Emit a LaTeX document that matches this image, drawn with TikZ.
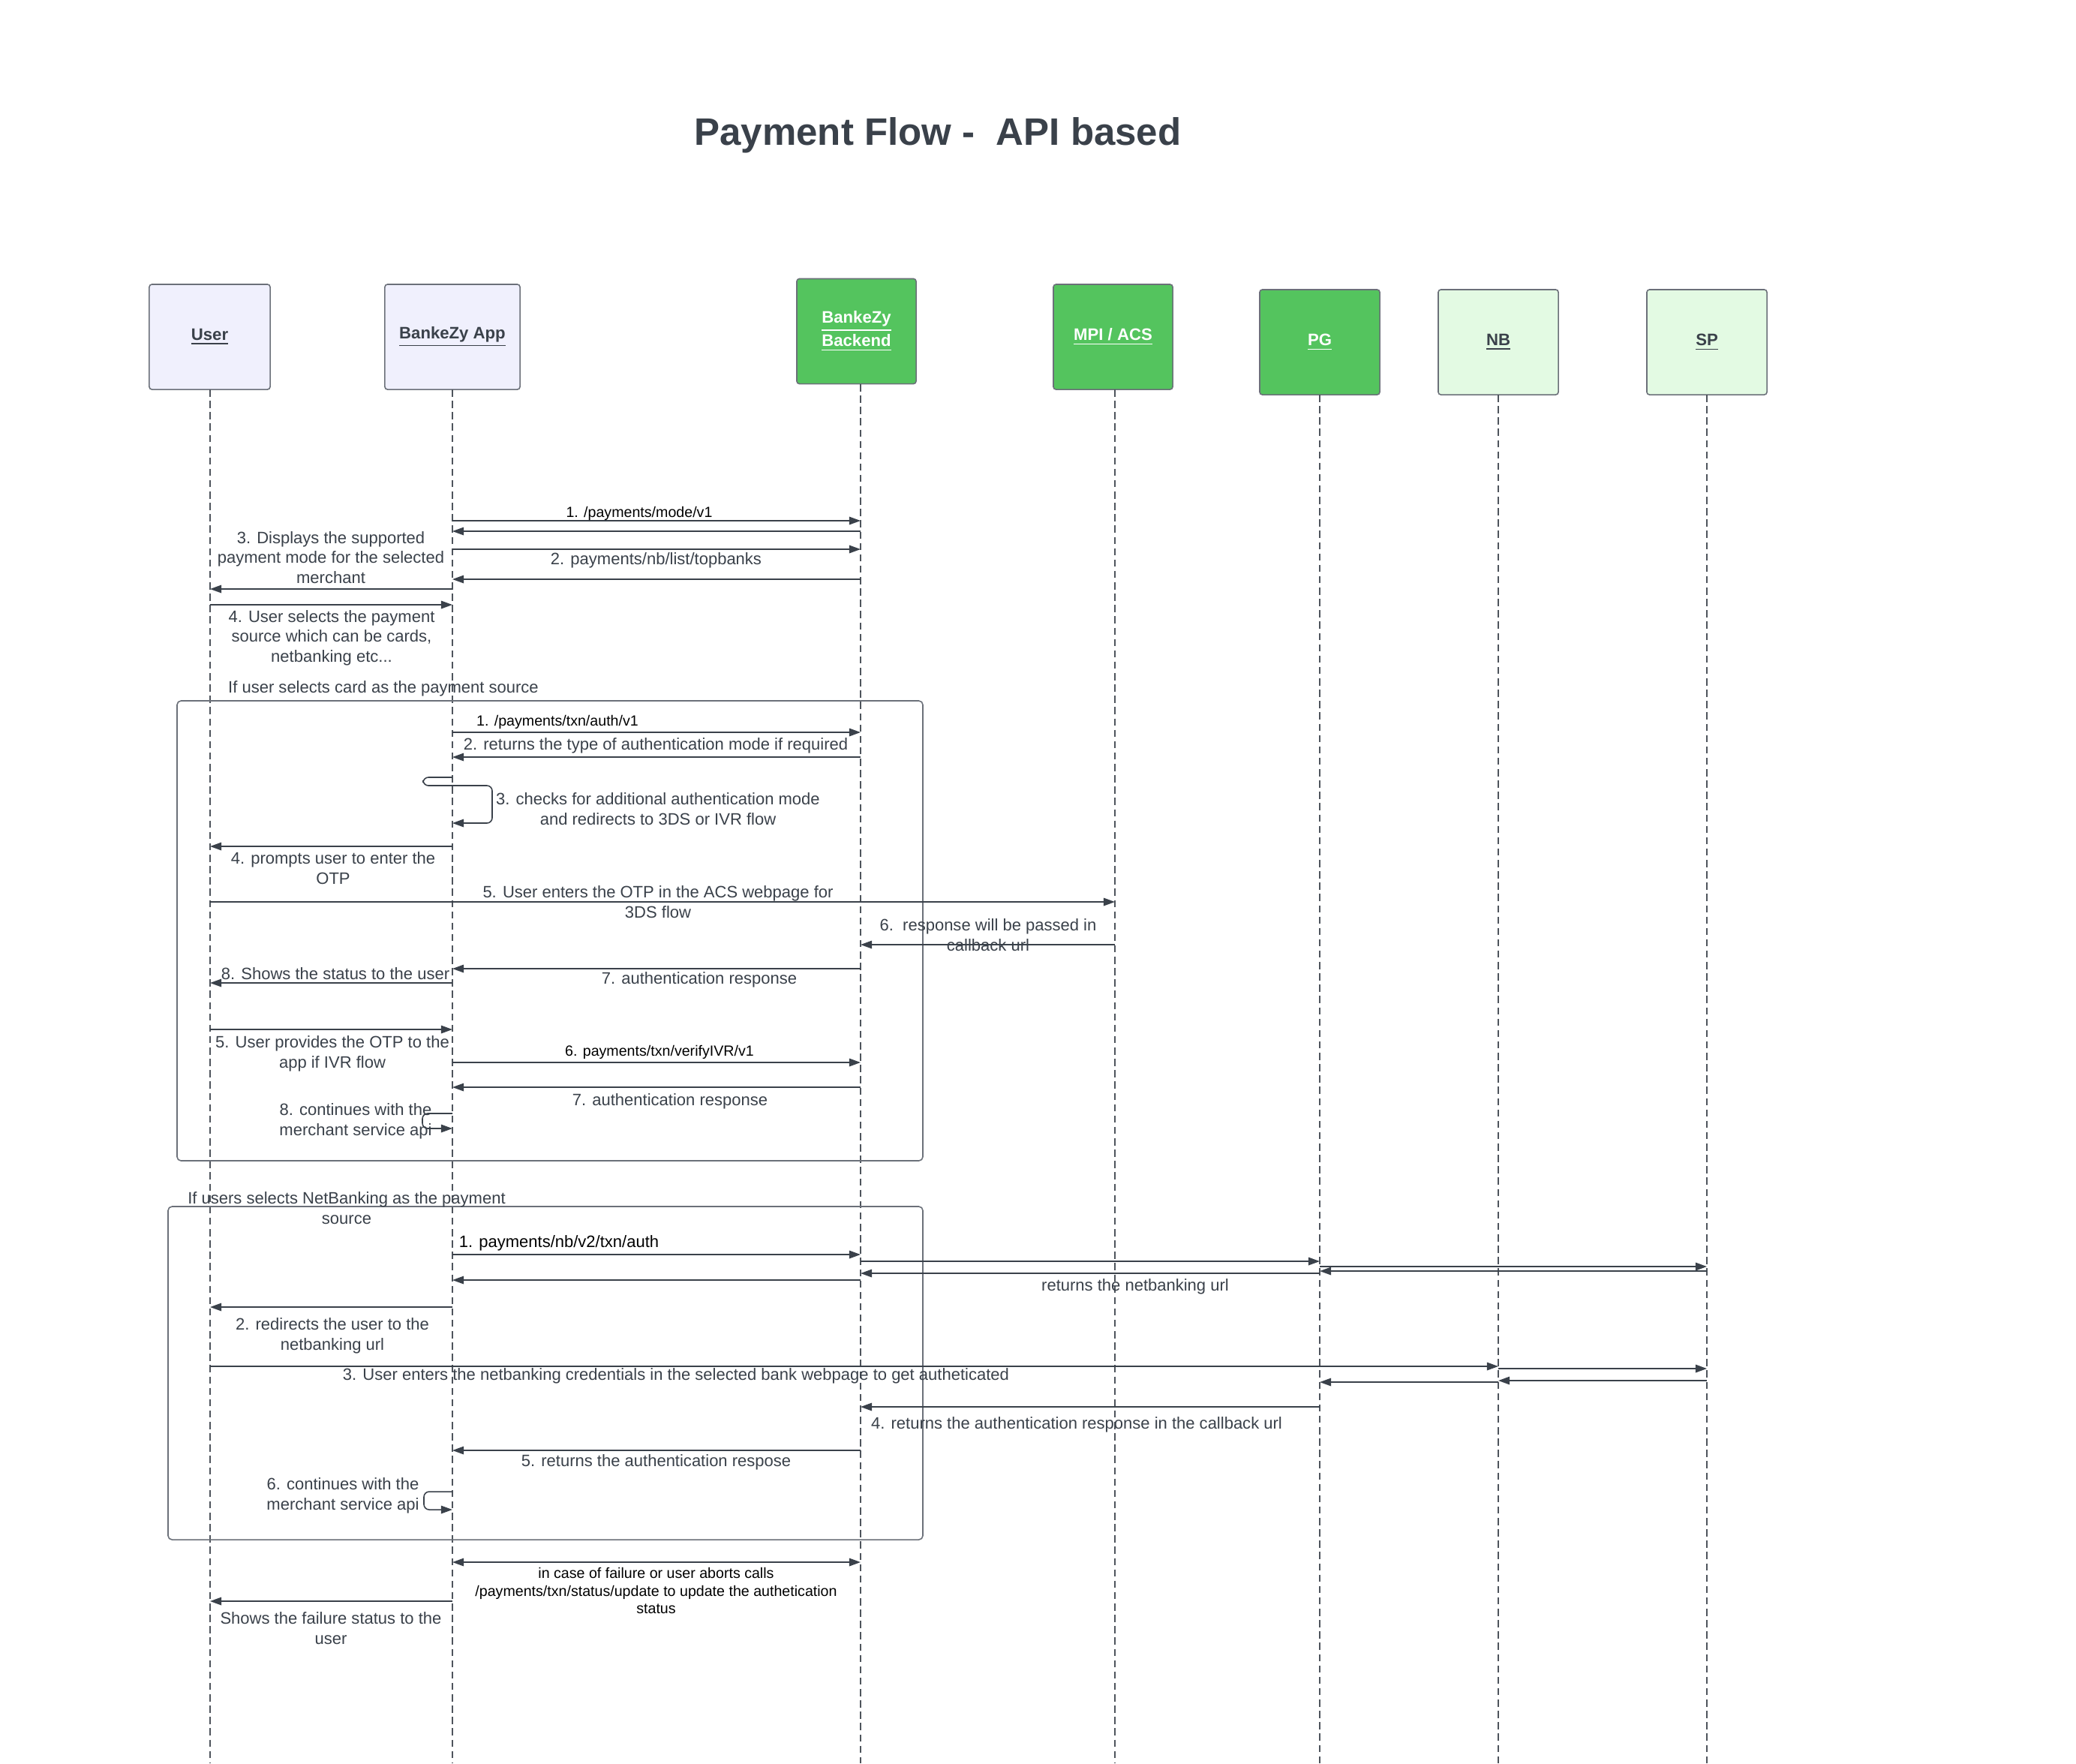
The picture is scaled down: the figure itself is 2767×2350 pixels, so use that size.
\documentclass[tikz,border=0pt]{standalone}
\usepackage{fontspec}
\setmainfont{Liberation Sans}
\usetikzlibrary{arrows.meta}
\definecolor{txt}{HTML}{3A414A}
\definecolor{lav}{HTML}{F0F0FD}
\definecolor{grn}{HTML}{54C45E}
\definecolor{lgrn}{HTML}{E3FAE3}
\definecolor{edgec}{HTML}{6B7079}
\newcommand\lblfont{\fontsize{6.26}{7.55}\selectfont}
\newcommand\blkfont{\fontsize{5.58}{6.7}\selectfont}
\newcommand\actfont{\bfseries\fontsize{6.3}{7.6}\selectfont}
\begin{document}
\begin{tikzpicture}[x=0.01cm,y=-0.01cm,
  lbl/.style={font=\lblfont, text=txt, align=center, inner sep=0pt},
  blbl/.style={font=\blkfont, text=black, align=center, inner sep=0pt},
  msg/.style={draw=txt, line width=0.45pt, -{Triangle[length=4.3pt,width=3pt]}},
  dmsg/.style={draw=txt, line width=0.45pt, {Triangle[length=4.3pt,width=3pt]}-{Triangle[length=4.3pt,width=3pt]}},
  life/.style={draw=txt!90, line width=0.45pt, dash pattern=on 2.7pt off 1.6pt},
  actor/.style={draw=edgec, line width=0.45pt, rounded corners=1pt, minimum height=1.4cm, align=center, inner sep=0pt, font=\actfont},
  fram/.style={draw=edgec, line width=0.45pt, rounded corners=1.5pt}]
\fill[white] (0,0) rectangle (2767,2350);
\useasboundingbox (0,0) rectangle (2767,2350);

\node[font=\bfseries\fontsize{14.5}{17}\selectfont, text=txt, anchor=base] (title) at (1250,193) {Payment Flow -\ \ API based};

% actors
\node[actor, fill=lav, minimum width=1.61cm, text=txt] (Ubox) at (279.5,449) {\underline{User}};
\node[actor, fill=lav, minimum width=1.80cm, text=txt] (Abox) at (603,449) {\underline{BankeZy App}};
\node[actor, fill=grn, minimum width=1.59cm, text=white] (Bbox) at (1141.5,441.5) {\underline{BankeZy}\\\underline{Backend}};
\node[actor, fill=grn, minimum width=1.59cm, text=white] (Mbox) at (1483.5,449) {\underline{MPI / ACS}};
\node[actor, fill=grn, minimum width=1.60cm, text=white] (Pbox) at (1759,456) {\underline{PG}};
\node[actor, fill=lgrn, minimum width=1.60cm, text=txt] (Nbox) at (1997,456) {\underline{NB}};
\node[actor, fill=lgrn, minimum width=1.60cm, text=txt] (Sbox) at (2275,456) {\underline{SP}};

% lifeline tops (named coordinates)
\coordinate (U) at (280,519);
\coordinate (A) at (603,519);
\coordinate (B) at (1147,512);
\coordinate (M) at (1486,519);
\coordinate (P) at (1759,526);
\coordinate (N) at (1997,526);
\coordinate (S) at (2275,526);

% lifelines
\foreach \n in {U,A,B,M,P,N,S}{\draw[life] (\n) -- (\n |- 0,2350);}

% frames
\draw[fram] (236,934) rectangle (1230,1547);
\node[lbl] (f1) at (511,918) {If user selects card as the payment source};
\draw[fram] (224,1608) rectangle (1230,2052);
\node[lbl] (f2) at (462,1610) {If users selects NetBanking as the payment\\source};

% initial exchange
\draw[msg] (A |- 0,694) -- (B |- 0,694);
\node[blbl, anchor=base] (l1) at (852,689) {1. /payments/mode/v1};
\draw[msg] (B |- 0,708) -- (A |- 0,708);
\draw[msg] (A |- 0,732) -- (B |- 0,732);
\node[lbl] (l2) at (874.5,747) {2. payments/nb/list/topbanks};
\draw[msg] (B |- 0,772) -- (A |- 0,772);
\draw[msg] (A |- 0,785) -- (U |- 0,785);
\node[lbl] (l3) at (441,743) {3. Displays the supported\\payment mode for the selected\\merchant};
\draw[msg] (U |- 0,806) -- (A |- 0,806);
\node[lbl] (l4) at (442,850) {4. User selects the payment\\source which can be cards,\\netbanking etc...};

% card flow
\draw[msg] (A |- 0,976) -- (B |- 0,976);
\node[blbl] (c1) at (743,962) {1. /payments/txn/auth/v1};
\draw[msg] (B |- 0,1009) -- (A |- 0,1009);
\node[lbl] (c2) at (874,994) {2. returns the type of authentication mode if required};
\draw[msg, rounded corners=2pt] (A |- 0,1036) -- (564,1036) -- (564,1047) -- (656,1047) -- (656,1097) -- (A |- 0,1097);
\node[lbl] (c3) at (877,1078) {3. checks for additional authentication mode\\and redirects to 3DS or IVR flow};
\draw[msg] (A |- 0,1128) -- (U |- 0,1128);
\node[lbl] (c4) at (444,1157) {4. prompts user to enter the\\OTP};
\draw[msg] (U |- 0,1202) -- (M |- 0,1202);
\node[lbl] (c5) at (877,1202) {5. User enters the OTP in the ACS webpage for\\3DS flow};
\draw[msg] (M |- 0,1259) -- (B |- 0,1259);
\node[lbl] (c6) at (1317,1246) {6.\ \ response will be passed in\\callback url};
\draw[msg] (B |- 0,1291) -- (A |- 0,1291);
\node[lbl] (c7) at (932,1306) {7. authentication response};
\draw[msg] (A |- 0,1310) -- (U |- 0,1310);
\node[lbl] (c8) at (447,1298) {8. Shows the status to the user};
\draw[msg] (U |- 0,1372) -- (A |- 0,1372);
\node[lbl] (c9) at (443,1404) {5. User provides the OTP to the\\app if IVR flow};
\draw[msg] (A |- 0,1416) -- (B |- 0,1416);
\node[blbl] (c10) at (879,1402) {6. payments/txn/verifyIVR/v1};
\draw[msg] (B |- 0,1449) -- (A |- 0,1449);
\node[lbl] (c11) at (893,1468) {7. authentication response};
\draw[msg, rounded corners=2pt] (A |- 0,1484) -- (563,1484) -- (563,1504) -- (A |- 0,1504);
\node[lbl] (c12) at (474,1494) {8. continues with the\\merchant service api};

% netbanking flow
\draw[msg] (A |- 0,1672) -- (B |- 0,1672);
\node[font=\lblfont, text=black, inner sep=0pt] (n1) at (745,1657) {1. payments/nb/v2/txn/auth};
\draw[msg] (B |- 0,1681) -- (P |- 0,1681);
\draw[msg] (P |- 0,1688) -- (S |- 0,1688);
\draw[msg] (S |- 0,1694) -- (P |- 0,1694);
\draw[msg] (P |- 0,1697) -- (B |- 0,1697);
\node[lbl] (n2) at (1513,1715) {returns the netbanking url};
\draw[msg] (B |- 0,1706) -- (A |- 0,1706);
\draw[msg] (A |- 0,1742) -- (U |- 0,1742);
\node[lbl] (n3) at (443,1780) {2. redirects the user to the\\netbanking url};
\draw[msg] (U |- 0,1821) -- (N |- 0,1821);
\node[lbl] (n4) at (901,1834) {3. User enters the netbanking credentials in the selected bank webpage to get autheticated};
\draw[msg] (N |- 0,1824) -- (S |- 0,1824);
\draw[msg] (S |- 0,1840) -- (N |- 0,1840);
\draw[msg] (N |- 0,1842) -- (P |- 0,1842);
\draw[msg] (P |- 0,1875) -- (B |- 0,1875);
\node[lbl] (n5) at (1435,1899) {4. returns the authentication response in the callback url};
\draw[msg] (B |- 0,1933) -- (A |- 0,1933);
\node[lbl] (n6) at (874.5,1949) {5. returns the authentication respose};
\draw[msg, rounded corners=2pt] (A |- 0,1988) -- (565,1988) -- (565,2012) -- (A |- 0,2012);
\node[lbl] (n7) at (457,1993) {6. continues with the\\merchant service api};

% failure
\draw[dmsg] (A |- 0,2082) -- (B |- 0,2082);
\node[blbl] (e1) at (874.5,2120) {in case of failure or user aborts calls\\/payments/txn/status/update to update the authetication\\status};
\draw[msg] (A |- 0,2134) -- (U |- 0,2134);
\node[lbl] (e2) at (441,2170) {Shows the failure status to the\\user};
\end{tikzpicture}
\end{document}
